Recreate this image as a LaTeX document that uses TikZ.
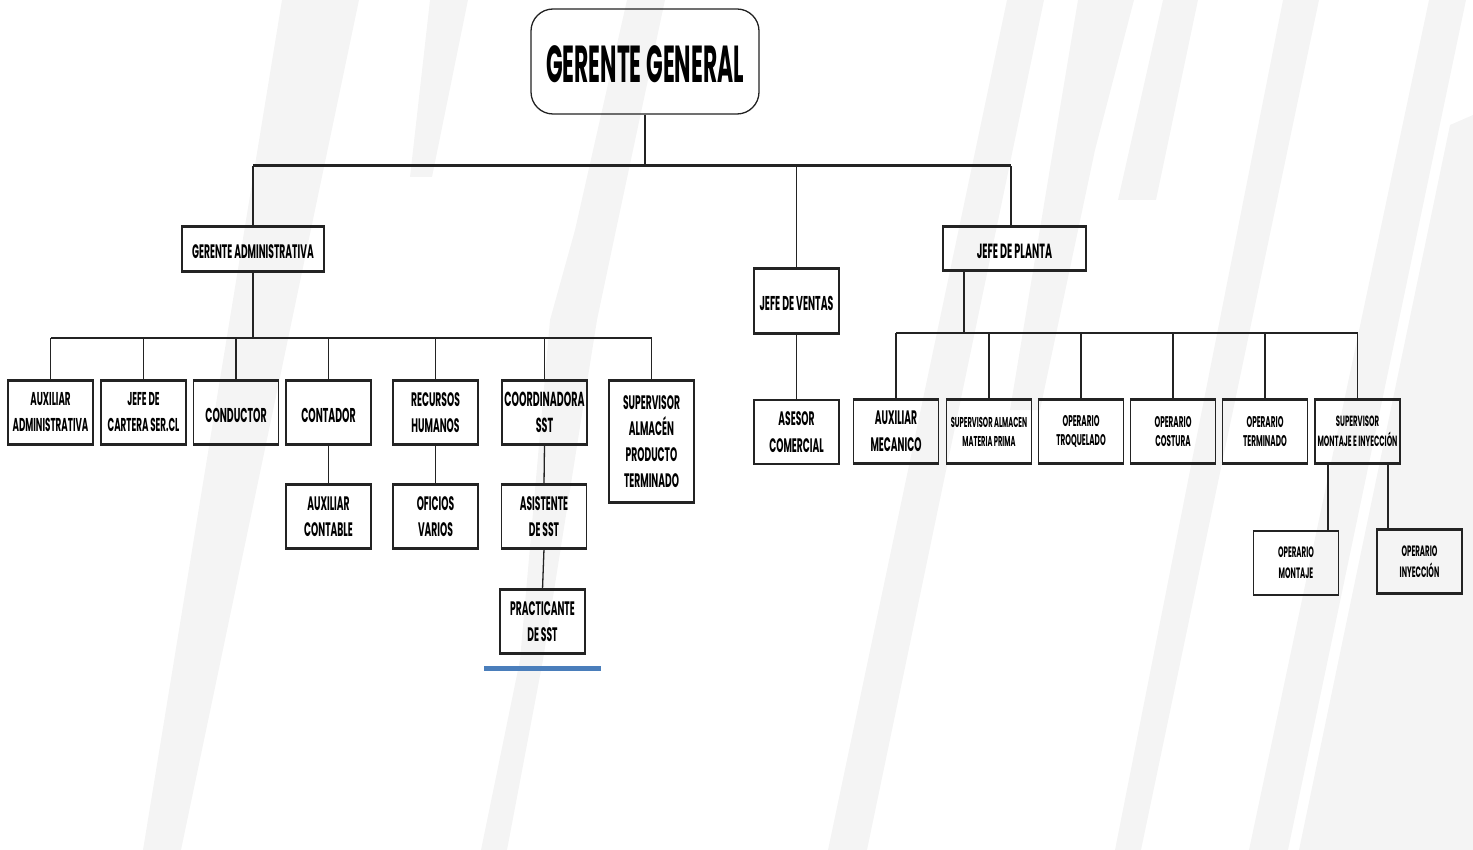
\documentclass[tikz,border=0pt]{standalone}
\usepackage{fontspec}
\newfontfamily\bodyf{Poppins}[FakeStretch=0.47]
\newfontfamily\titlef{Poppins}[FakeStretch=0.42]
\definecolor{stripe}{RGB}{244,244,244}
\definecolor{blueline}{RGB}{74,126,187}
\definecolor{ink}{RGB}{35,35,35}
\newcommand{\lowerstrut}{\rule{0pt}{\dimexpr0.7em+6pt\relax}}
\tikzset{
  box/.style={draw=ink, line width=1.3pt, inner sep=0pt, align=center, text=black,
              execute at begin node=\lowerstrut},
  txt/.style 2 args={font=\bodyf\bfseries\fontsize{#1}{#2}\selectfont},
  vline/.style={draw=ink, line width=1.3pt},
  hbar/.style={draw=ink, line width=2.4pt},
  topbar/.style={draw=ink, line width=3pt},
  edgeline/.style={draw=ink, line width=2.6pt},
  row/.style={minimum width=85, minimum height=63},
}
\begin{document}
\begin{tikzpicture}[x=1pt, y=-1pt]
\useasboundingbox (0,0) rectangle (1473,850);
% faint background watermark stripes
\fill[stripe] (282,0) -- (359,0) -- (181,850) -- (143,850) -- cycle;
\fill[stripe] (430,0) -- (468,0) -- (432,177) -- (410,177) -- cycle;
\fill[stripe] (627,0) -- (665,0) -- (616,230) -- (597,320) -- (543,660) -- (507,850) -- (481,850) -- (520,660) -- (550,320) -- (575,230) -- cycle;
\fill[stripe] (1007,0) -- (1044,0) -- (867,850) -- (828,850) -- cycle;
\fill[stripe] (1078,0) -- (1134,0) -- (1095,150) -- (1040,410) -- (1010,410) -- (1053,150) -- cycle;
\fill[stripe] (1163,0) -- (1198,0) -- (1156,200) -- (1118,200) -- cycle;
\fill[stripe] (1283,0) -- (1319,0) -- (1141,850) -- (1115,850) -- cycle;
\fill[stripe] (1429,0) -- (1466,0) -- (1288,850) -- (1249,850) -- cycle;
\fill[stripe] (1450,125) -- (1473,115) -- (1473,850) -- (1299,850) -- cycle;

% nodes
\node[box, rounded corners=22pt, minimum width=228, minimum height=105,
      font=\titlef\bfseries\fontsize{52}{60}\selectfont] (gg) at (645,61.5) {GERENTE GENERAL};
\node[box, txt={19.5}{25}, minimum width=142, minimum height=44] (ga) at (253,249) {GERENTE ADMINISTRATIVA};
\node[box, txt={20}{26}, minimum width=85, minimum height=64] (jv) at (796.5,301) {JEFE DE VENTAS};
\node[box, txt={20.5}{26}, minimum width=143, minimum height=43] (jp) at (1014.5,248.5) {JEFE DE PLANTA};

\node[box, row, txt={18.6}{26}] (aa) at (50.5,412.5) {AUXILIAR\\ADMINISTRATIVA};
\node[box, row, txt={18.6}{26}] (jc) at (143.5,412.5) {JEFE DE\\CARTERA SER.CL};
\node[box, row, txt={20}{26}] (co) at (236,412.5) {CONDUCTOR};
\node[box, row, txt={20}{26}] (ct) at (328.5,412.5) {CONTADOR};
\node[box, row, txt={19.5}{26}] (rh) at (435.5,412.5) {RECURSOS\\HUMANOS};
\node[box, row, txt={20.3}{26}] (cs) at (544.5,412.5) {COORDINADORA\\SST};
\node[box, txt={19.5}{26}, minimum width=85, minimum height=121] (sa) at (651.5,441.5) {SUPERVISOR\\ALMACÉN\\PRODUCTO\\TERMINADO};
\node[box, row, txt={19.5}{26}] (ac) at (328.5,516.5) {AUXILIAR\\CONTABLE};
\node[box, row, txt={19.5}{26}] (of) at (435.5,516.5) {OFICIOS\\VARIOS};
\node[box, row, txt={19.5}{26}] (as) at (544,516.5) {ASISTENTE\\DE SST};
\node[box, row, txt={19.5}{26}] (pr) at (542.5,621.5) {PRACTICANTE\\DE SST};

\node[box, row, txt={19.5}{27}] (ase) at (796.5,432) {ASESOR\\COMERCIAL};
\node[box, row, txt={19.5}{27}] (am) at (896,431.5) {AUXILIAR\\MECANICO};
\node[box, row, txt={14.3}{19}] (sm) at (989,431.5) {SUPERVISOR ALMACEN\\MATERIA PRIMA};
\node[box, row, txt={15.5}{19}] (ot) at (1081,431.5) {OPERARIO\\TROQUELADO};
\node[box, row, txt={15.5}{19}] (oc) at (1173,431.5) {OPERARIO\\COSTURA};
\node[box, row, txt={15.5}{19}] (ote) at (1265,431.5) {OPERARIO\\TERMINADO};
\node[box, row, txt={14.8}{20}] (smi) at (1357.5,431.5) {SUPERVISOR\\MONTAJE E INYECCIÓN};
\node[box, row, txt={15}{21}] (om) at (1296,563) {OPERARIO\\MONTAJE};
\node[box, row, txt={15}{21}] (oi) at (1419.5,561.5) {OPERARIO\\INYECCIÓN};

% bar levels
\coordinate (tb) at (0,166);
\coordinate (lb) at (0,338);
\coordinate (rb) at (0,333);

% top level
\draw[vline] (gg.south) -- (gg.south |- tb);
\draw[vline] (ga.north) -- (ga.north |- tb);
\draw[vline] (jv.north) -- (jv.north |- tb);
\draw[vline] ([xshift=-3.5pt]jp.north) -- ([xshift=-3.5pt]jp.north |- tb);
\draw[topbar] (ga.north |- tb) -- ([xshift=-3.5pt]jp.north |- tb);

% administrative branch
\draw[vline] (ga.south) -- (ga.south |- lb);
\foreach \n in {aa,jc,co,ct,rh,cs,sa}
  \draw[vline] (\n.north) -- (\n.north |- lb);
\draw[hbar] (aa.north |- lb) -- (sa.north |- lb);
\draw[vline] (ct.south) -- (ac.north);
\draw[vline] (rh.south) -- (of.north);
\draw[vline] (cs.south) -- (as.north);
\draw[vline] (as.south) -- (pr.north);

% sales branch
\draw[vline] (jv.south) -- (ase.north);

% plant branch
\draw[vline] ([xshift=-50.5pt]jp.south) -- ([xshift=-50.5pt]jp.south |- rb);
\foreach \n in {am,sm,ot,oc,ote,smi}
  \draw[vline] (\n.north) -- (\n.north |- rb);
\draw[hbar] (am.north |- rb) -- (smi.north |- rb);
\draw[vline] ([xshift=32pt]om.north) -- ([xshift=32pt]om.north |- smi.south);
\draw[vline] ([xshift=-31.5pt]oi.north) -- ([xshift=-31.5pt]oi.north |- smi.south);

% heavier top and bottom edges of the boxes
\foreach \n in {ga,jv,jp,aa,jc,co,ct,rh,cs,sa,ac,of,as,pr,ase,am,sm,ot,oc,ote,smi,om,oi}{
  \draw[edgeline] (\n.north west) -- (\n.north east);
  \draw[edgeline] (\n.south west) -- (\n.south east);
}

% blue underline
\draw[blueline, line width=5pt] (484,668) -- (601,668);
\end{tikzpicture}
\end{document}
